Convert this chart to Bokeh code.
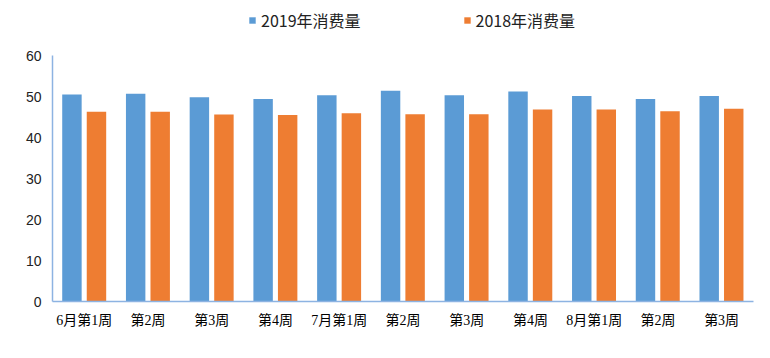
from bokeh.plotting import figure
from bokeh.layouts import column
from bokeh.models import Range1d, FixedTicker, Legend, LegendItem, ColumnDataSource
from bokeh.transform import dodge
from bokeh.embed import file_html
from bokeh.resources import INLINE

weeks = ["6月第1周", "第2周", "第3周", "第4周", "7月第1周", "第2周", "第3周", "第4周",
         "8月第1周", "第2周", "第3周"]
y2019 = [50.5, 50.7, 49.8, 49.4, 50.3, 51.4, 50.3, 51.2, 50.1, 49.4, 50.1]
y2018 = [46.3, 46.3, 45.6, 45.5, 45.9, 45.7, 45.7, 46.8, 46.8, 46.4, 47.0]
series_names = ["2019年消费量", "2018年消费量"]
colors = ["#5b9bd5", "#ee7d32"]
y_ticks = [0, 10, 20, 30, 40, 50, 60]

idx = list(range(len(weeks)))
src = ColumnDataSource(dict(x=idx, a=y2019, b=y2018))

# main chart
p = figure(width=770, height=311, output_backend="svg", toolbar_location=None,
           x_range=Range1d(-0.5, len(weeks) - 0.5), y_range=Range1d(0, 60),
           min_border_left=52, min_border_right=17, min_border_top=8, min_border_bottom=57)
p.outline_line_color = None
p.xgrid.visible = False
p.ygrid.visible = False

p.vbar(x=dodge("x", -0.195, range=p.x_range), top="a", width=0.305, source=src,
       fill_color=colors[0], line_color=None)
p.vbar(x=dodge("x", 0.19, range=p.x_range), top="b", width=0.305, source=src,
       fill_color=colors[1], line_color=None)

axis_color = "#8db3e2"
p.xaxis.ticker = FixedTicker(ticks=idx)
p.xaxis.major_label_overrides = {i: w for i, w in enumerate(weeks)}
p.xaxis.axis_line_color = axis_color
p.xaxis.axis_line_width = 1.5
p.xaxis.major_tick_line_color = None
p.xaxis.minor_tick_line_color = None
p.xaxis.major_label_text_font = "Liberation Serif, Noto Sans CJK SC"
p.xaxis.major_label_text_font_size = "14px"
p.xaxis.major_label_text_color = "#000000"
p.xaxis.major_label_standoff = 5

p.yaxis.ticker = FixedTicker(ticks=y_ticks)
p.yaxis.axis_line_color = axis_color
p.yaxis.axis_line_width = 1.5
p.yaxis.major_tick_line_color = None
p.yaxis.minor_tick_line_color = None
p.yaxis.major_label_text_font = "Liberation Sans"
p.yaxis.major_label_text_font_size = "14px"
p.yaxis.major_label_text_color = "#222222"
p.yaxis.major_label_standoff = 5

# legend strip above the chart (its frame is aligned with the chart's frame)
top = figure(width=770, height=47, output_backend="svg", toolbar_location=None,
             x_range=Range1d(-0.5, len(weeks) - 0.5), y_range=Range1d(1000, 1001),
             x_axis_location=None, y_axis_location=None,
             min_border_left=0, min_border_right=0, min_border_top=0, min_border_bottom=0)
top.outline_line_color = None
top.xgrid.visible = False
top.ygrid.visible = False
# same data, outside this strip's visible range: only their legend swatches show
l1 = top.vbar(x="x", top="a", width=0.3, source=src, fill_color=colors[0], line_color=None)
l2 = top.vbar(x="x", top="b", width=0.3, source=src, fill_color=colors[1], line_color=None)

legend = Legend(items=[LegendItem(label=series_names[0], renderers=[l1]),
                       LegendItem(label=series_names[1], renderers=[l2])],
                orientation="horizontal", location=(196, 15),
                border_line_color=None, background_fill_alpha=0,
                label_text_font="Noto Sans CJK SC", label_text_font_size="16px",
                label_text_color="#222222",
                glyph_width=8, glyph_height=8, label_standoff=5, spacing=102,
                padding=0, margin=0)
top.add_layout(legend, "center")

layout = column(top, p, spacing=0)
open("out.html", "w").write(file_html(layout, INLINE))
